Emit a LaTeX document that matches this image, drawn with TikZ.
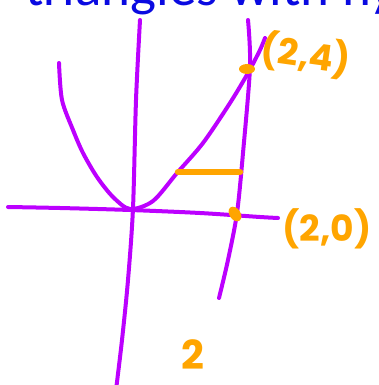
\documentclass[tikz,border=0pt]{standalone}
\usepackage{fontspec}
\setmainfont{Carlito}
\newfontfamily\handfont{Poppins}
\definecolor{pur}{RGB}{188,0,255}
\definecolor{org}{RGB}{255,165,0}
\definecolor{ttl}{RGB}{10,10,225}
\begin{document}
\begin{tikzpicture}[x=1pt,y=-1pt,
  pen/.style={draw=pur,line width=4pt,line cap=round,line join=round},
  hl/.style={draw=org,line width=6.5pt,line cap=round},
  dot/.style={fill=org,draw=none},
  lbl/.style={text=org,font=\handfont\bfseries\fontsize{36}{36}\selectfont,inner sep=0pt}]
\useasboundingbox (0,0) rectangle (378,385);
\clip (0,0) rectangle (378,385);
% title (cut off at top)
\node[anchor=base west,inner sep=0pt,text=ttl,font=\fontsize{55}{60}\selectfont] (title) at (25,6) {triangles with hy};
% y-axis
\draw[pen] plot[smooth] coordinates {(140,20) (136,100) (133,208) (128,280) (122,340) (116,390)};
% x-axis
\draw[pen] plot[smooth] coordinates {(8,207) (60,208) (130,210) (200,213) (260,217) (278,218)};
% parabola
\draw[pen] plot[smooth] coordinates {(59,63) (62,100) (73,130) (83,153) (97,177) (113,197) (130,209) (153,201) (177,173) (203,143) (230,103) (248,73) (260,50) (265,38)};
% vertical line x=2
\draw[pen] plot[smooth] coordinates {(248,20) (250,67) (243,153) (237,213) (228,260) (219,298)};
% orange marks
\coordinate (ha) at (178,172);
\coordinate (hb) at (240,172);
\draw[hl] (ha) -- (hb);
\fill[dot] (247,69) ellipse [x radius=8pt, y radius=5pt];
\fill[dot,rotate around={-55:(235,214)}] (235,214) ellipse [x radius=8pt, y radius=5.5pt];
% labels
\node[lbl,rotate=-8] (p24) at (306,55) {(2,4)};
\node[lbl] (p20) at (327,229) {(2,0)};
\node[lbl,font=\handfont\bfseries\fontsize{40}{40}\selectfont] (two) at (193,355) {2};
\end{tikzpicture}
\end{document}
